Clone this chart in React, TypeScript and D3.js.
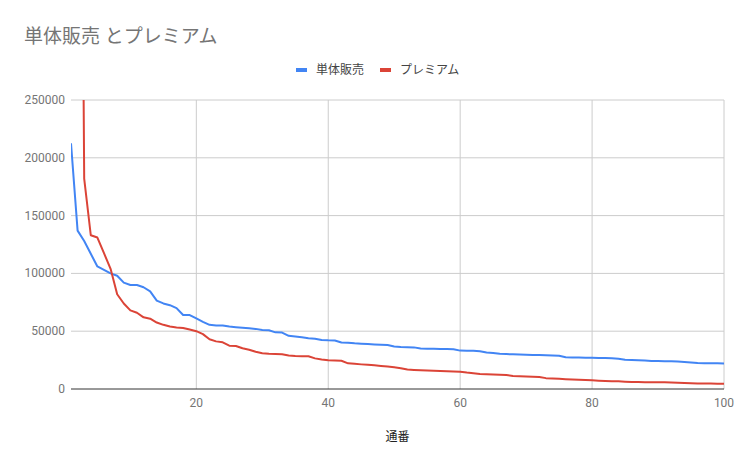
import { useEffect, useRef } from 'react';
import * as d3 from 'd3';

const title = '単体販売 とプレミアム';
const seriesNames = ['単体販売', 'プレミアム'];
const seriesColors = ['#4285f4', '#db4437'];
const xTicks = [20, 40, 60, 80, 100];
const yTicks = [0, 50000, 100000, 150000, 200000, 250000];

const tantai = [
    212500, 137000, 128000, 117000, 106000, 103000, 100000, 98000, 92000, 90000,
    90000, 88000, 84500, 76500, 74000, 72500, 70000, 64000, 64000, 61000,
    58000, 55500, 55000, 55000, 54000, 53500, 53000, 52500, 52000, 51000,
    50800, 49000, 48800, 46000, 45500, 44800, 44000, 43500, 42400, 42100,
    42000, 40200, 40000, 39500, 39200, 38900, 38600, 38300, 38000, 36800,
    36400, 36200, 36000, 35000, 34900, 34800, 34700, 34600, 34400, 33200,
    33100, 33000, 32600, 31500, 31200, 30400, 30200, 30000, 29900, 29700,
    29500, 29400, 29200, 29000, 28800, 27500, 27300, 27200, 27100, 27000,
    26900, 26800, 26600, 26200, 25300, 25100, 24900, 24600, 24300, 24200,
    24100, 24000, 23700, 23400, 23000, 22400, 22300, 22300, 22200, 22100,
];

const premium = [
    1500000, 1000000, 182000, 133000, 131000, 117500, 104000, 82000, 74000, 68000,
    66000, 62000, 60800, 57500, 55500, 54000, 53300, 52800, 51500, 50000,
    47500, 43000, 41200, 40400, 37500, 37200, 35200, 34000, 32200, 31000,
    30500, 30300, 30000, 29000, 28500, 28400, 28300, 26500, 25500, 24800,
    24600, 24400, 22200, 21800, 21300, 20900, 20500, 20000, 19500, 18800,
    18000, 16800, 16500, 16200, 15900, 15700, 15500, 15300, 15100, 15000,
    14200, 13600, 13000, 12800, 12600, 12400, 12200, 11200, 11000, 10800,
    10600, 10400, 9400, 9100, 8800, 8500, 8300, 8000, 7800, 7500,
    7200, 7000, 6800, 6600, 6300, 6100, 6000, 5900, 5900, 5800,
    5800, 5700, 5400, 5100, 4900, 4800, 4700, 4700, 4600, 4600,
];

const width = 747;
const height = 466;
const margin = { top: 100, right: 23, bottom: 77, left: 71 };
const font = "Roboto, 'Noto Sans CJK JP', sans-serif";

const App = () => {
    const svgRef = useRef<SVGSVGElement>(null);

    useEffect(() => {
        const root = d3.select(svgRef.current);
        root.selectAll('*').remove();

        const x = d3
            .scaleLinear()
            .domain([1, 100])
            .range([margin.left, width - margin.right]);
        const y = d3
            .scaleLinear()
            .domain([0, 250000])
            .range([height - margin.bottom, margin.top]);

        // Title
        root.append('text')
            .attr('x', 24)
            .attr('y', 43)
            .attr('font-size', 19)
            .attr('fill', '#757575')
            .text(title);

        // Gridlines
        root.append('g')
            .selectAll('line')
            .data(yTicks.slice(1))
            .join('line')
            .attr('x1', margin.left)
            .attr('x2', width - margin.right)
            .attr('y1', d => y(d))
            .attr('y2', d => y(d))
            .attr('stroke', '#cccccc');

        root.append('g')
            .selectAll('line')
            .data(xTicks)
            .join('line')
            .attr('x1', d => x(d))
            .attr('x2', d => x(d))
            .attr('y1', margin.top)
            .attr('y2', height - margin.bottom)
            .attr('stroke', '#cccccc');

        // Lines, clipped to the plot area
        root.append('clipPath')
            .attr('id', 'plot-clip')
            .append('rect')
            .attr('x', margin.left)
            .attr('y', margin.top)
            .attr('width', width - margin.left - margin.right)
            .attr('height', height - margin.top - margin.bottom);

        const line = d3
            .line<number>()
            .x((_, i) => x(i + 1))
            .y(d => y(d));

        root.append('g')
            .attr('clip-path', 'url(#plot-clip)')
            .selectAll('path')
            .data([tantai, premium])
            .join('path')
            .attr('d', d => line(d))
            .attr('fill', 'none')
            .attr('stroke', (_, i) => seriesColors[i])
            .attr('stroke-width', 2)
            .attr('stroke-linejoin', 'round');

        // Baseline
        root.append('line')
            .attr('x1', margin.left)
            .attr('x2', width - margin.right)
            .attr('y1', y(0))
            .attr('y2', y(0))
            .attr('stroke', '#333333');

        // Y tick labels
        root.append('g')
            .selectAll('text')
            .data(yTicks)
            .join('text')
            .attr('x', 65)
            .attr('y', d => y(d) + 4)
            .attr('text-anchor', 'end')
            .attr('font-size', 12)
            .attr('fill', '#757575')
            .text(d => String(d));

        // X tick labels
        root.append('g')
            .selectAll('text')
            .data(xTicks)
            .join('text')
            .attr('x', d => x(d))
            .attr('y', 407)
            .attr('text-anchor', 'middle')
            .attr('font-size', 12)
            .attr('fill', '#757575')
            .text(d => String(d));

        // X axis title
        root.append('text')
            .attr('x', (margin.left + width - margin.right) / 2)
            .attr('y', 441)
            .attr('text-anchor', 'middle')
            .attr('font-size', 12)
            .attr('fill', '#222222')
            .text('通番');

        // Legend
        const legendX = [296, 380];
        const legend = root
            .append('g')
            .selectAll('g')
            .data(seriesNames)
            .join('g')
            .attr('transform', (_, i) => `translate(${legendX[i]},70)`);

        legend
            .append('rect')
            .attr('x', 0)
            .attr('y', -2)
            .attr('width', 11)
            .attr('height', 4)
            .attr('fill', (_, i) => seriesColors[i]);

        legend
            .append('text')
            .attr('x', 20)
            .attr('y', 4)
            .attr('font-size', 12)
            .attr('fill', '#444444')
            .text(d => d);
    }, []);

    return (
        <svg
            ref={svgRef}
            width={width}
            height={height}
            style={{ position: 'absolute', left: 0, top: 0, fontFamily: font, background: '#fff' }}
        ></svg>
    );
};

export default App;
